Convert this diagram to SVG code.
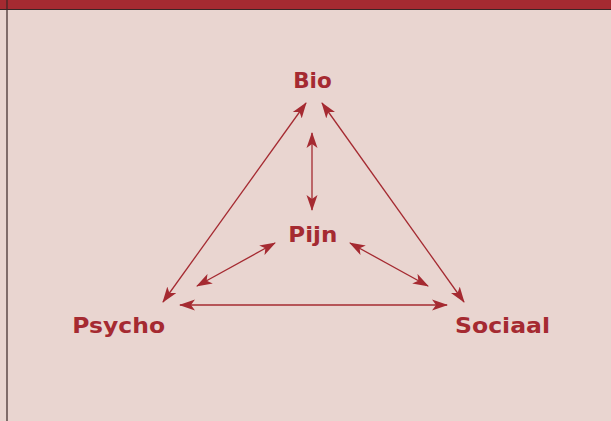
<svg xmlns="http://www.w3.org/2000/svg" width="611" height="421" viewBox="0 0 611 421">
<style>
.lbl{font-family:"DejaVu Sans","Open Sans","Liberation Sans",sans-serif;font-weight:700;font-size:21.5px;fill:#A52A31;text-anchor:middle}
.con{stroke:#A52A31;stroke-width:1.3;fill:none;marker-start:url(#ah);marker-end:url(#ah)}
</style>
<defs>
<marker id="ah" viewBox="0 0 16 12" refX="15" refY="6" markerWidth="16" markerHeight="12" markerUnits="userSpaceOnUse" orient="auto-start-reverse">
<path d="M0,0.5 L16,6 L0,11.5 L4,6 z" fill="#A52A31"/>
</marker>
</defs>
<rect x="0" y="0" width="611" height="421" fill="#E9D5D0"/>
<rect x="0" y="0" width="611" height="9" fill="#A52A31"/>
<line x1="0" y1="9.5" x2="611" y2="9.5" stroke="#3A2526" stroke-width="1.2"/>
<line x1="7" y1="0" x2="7" y2="421" stroke="#3A2526" stroke-width="1.2"/>
<g id="connectors">
<line class="con" x1="306" y1="103" x2="163" y2="302"/>
<line class="con" x1="322" y1="103" x2="464" y2="302"/>
<line class="con" x1="312" y1="133" x2="312" y2="210"/>
<line class="con" x1="275" y1="243" x2="197" y2="286"/>
<line class="con" x1="350" y1="243" x2="428" y2="286"/>
<line class="con" x1="180" y1="305" x2="447" y2="305"/>
</g>
<g id="bio"><text class="lbl" x="312.5" y="88" textLength="38.5" lengthAdjust="spacingAndGlyphs">Bio</text></g>
<g id="pijn"><text class="lbl" x="312.8" y="242" textLength="49" lengthAdjust="spacingAndGlyphs">Pijn</text></g>
<g id="psycho"><text class="lbl" x="118.7" y="333.3" textLength="92.7" lengthAdjust="spacingAndGlyphs">Psycho</text></g>
<g id="sociaal"><text class="lbl" x="502.5" y="333.3" textLength="95" lengthAdjust="spacingAndGlyphs">Sociaal</text></g>
</svg>
